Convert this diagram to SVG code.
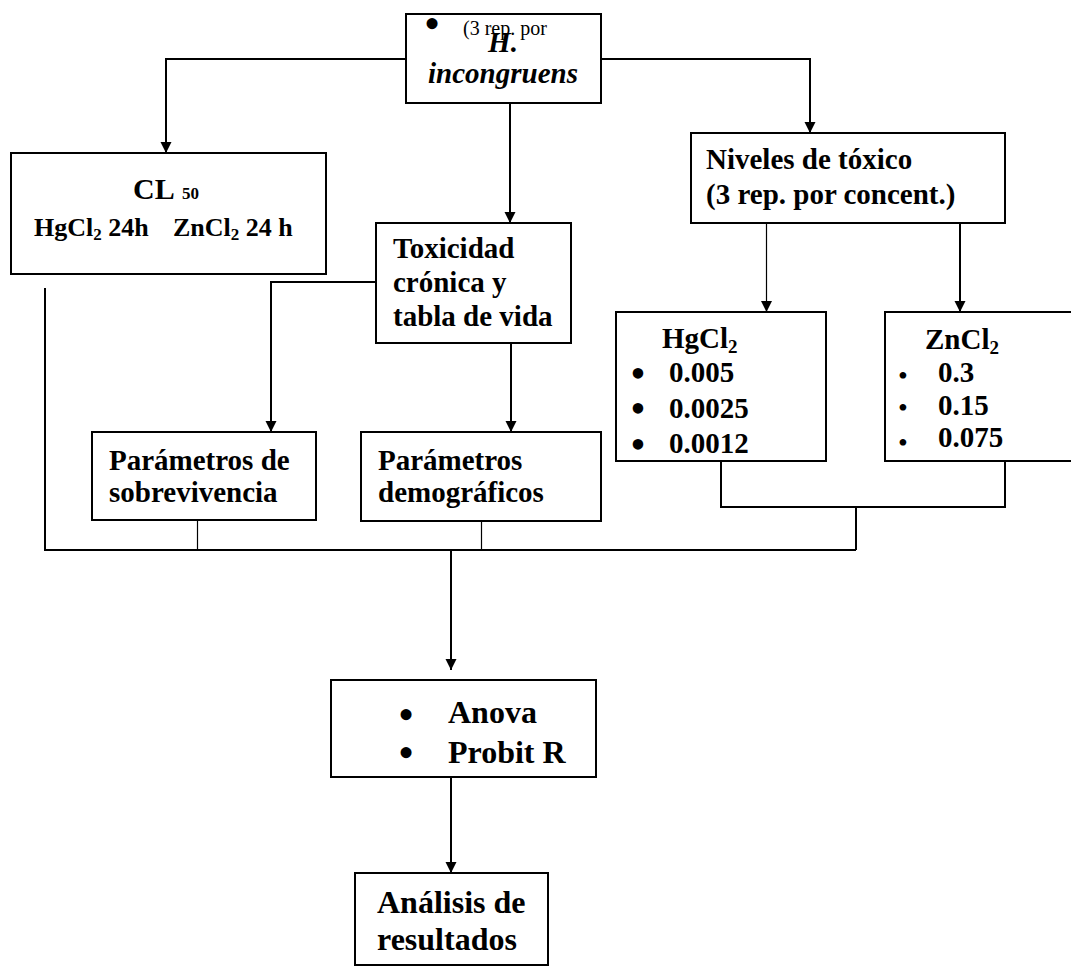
<svg xmlns="http://www.w3.org/2000/svg" width="1071" height="968" viewBox="0 0 1071 968">
<defs>
<marker id="arr" markerUnits="userSpaceOnUse" markerWidth="12" markerHeight="12" refX="11" refY="5.5" orient="auto">
<path d="M0,0 L11,5.5 L0,11 z" fill="#000"/>
</marker>
<style>
rect{fill:#fff;stroke:#000;stroke-width:2}
.c{fill:none;stroke:#000;stroke-width:2}
.t{stroke-width:1.2}
text{font-family:'Liberation Serif','Times New Roman',serif;fill:#000}
.b{font-weight:bold}
.bi{font-weight:bold;font-style:italic}
.bul{font-family:'Liberation Serif','Times New Roman',serif;text-anchor:middle}
</style>
</defs>
<rect x="0" y="0" width="1071" height="968" style="stroke:none;fill:#fff"/>
<g id="connectors">
<path class="c" d="M406,59 H166 V153" marker-end="url(#arr)"/>
<path class="c" d="M601,59 H810 V133" marker-end="url(#arr)"/>
<path class="c" d="M510,103 V223" marker-end="url(#arr)"/>
<path class="c" d="M376,282 H271 V432" marker-end="url(#arr)"/>
<path class="c" d="M511,343 V432" marker-end="url(#arr)"/>
<path class="c t" d="M766.5,223 V312" marker-end="url(#arr)"/>
<path class="c" d="M960,223 V312" marker-end="url(#arr)"/>
<path class="c" d="M721,461 V507 H1005 V461"/>
<path class="c" d="M856,507 V550"/>
<path class="c" d="M45,288 V550 H856"/>
<path class="c t" d="M197.5,520 V550"/>
<path class="c t" d="M481.5,521 V550"/>
<path class="c" d="M451,550 V670" marker-end="url(#arr)"/>
<path class="c" d="M451,777 V873" marker-end="url(#arr)"/>
</g>
<g id="top">
<rect x="406" y="14" width="195" height="89"/>
<text class="bul" x="432" y="39" font-size="46">•</text>
<text x="463" y="35" font-size="20">(3 rep. por</text>
<text class="bi" x="503" y="52" font-size="29" text-anchor="middle">H.</text>
<text class="bi" x="503" y="83" font-size="29" text-anchor="middle">incongruens</text>
</g>
<g id="cl50">
<rect x="11" y="153" width="315" height="121"/>
<text class="b" x="133" y="199" font-size="30">CL<tspan x="182" font-size="17">50</tspan></text>
<text class="b" x="34" y="236" font-size="26">HgCl<tspan font-size="17" dy="4">2</tspan><tspan dy="-4"> 24h</tspan><tspan x="173">ZnCl</tspan><tspan font-size="17" dy="4">2</tspan><tspan dy="-4"> 24 h</tspan></text>
</g>
<g id="toxicidad">
<rect x="376" y="223" width="195" height="120"/>
<text class="b" x="393" y="258" font-size="29">Toxicidad</text>
<text class="b" x="393" y="292" font-size="29">crónica y</text>
<text class="b" x="393" y="326" font-size="29">tabla de vida</text>
</g>
<g id="niveles">
<rect x="691" y="133" width="314" height="90"/>
<text class="b" x="706" y="169" font-size="29">Niveles de tóxico</text>
<text class="b" x="706" y="204" font-size="29">(3 rep. por concent.)</text>
</g>
<g id="hgcl2">
<rect x="616" y="312" width="210" height="149"/>
<text class="b" x="662" y="348" font-size="29">HgCl<tspan font-size="19" dy="5">2</tspan></text>
<text class="bul" x="638" y="388" font-size="44">•</text>
<text class="bul" x="638" y="423" font-size="44">•</text>
<text class="bul" x="638" y="459" font-size="44">•</text>
<text class="b" x="669" y="382" font-size="29">0.005</text>
<text class="b" x="669" y="418" font-size="29">0.0025</text>
<text class="b" x="669" y="453" font-size="29">0.0012</text>
</g>
<g id="zncl2">
<rect x="885" y="312" width="190" height="149"/>
<text class="b" x="925" y="349" font-size="29">ZnCl<tspan font-size="19" dy="5">2</tspan></text>
<text class="bul" x="903" y="385" font-size="28">•</text>
<text class="bul" x="903" y="417" font-size="28">•</text>
<text class="bul" x="903" y="452" font-size="28">•</text>
<text class="b" x="938" y="382" font-size="29">0.3</text>
<text class="b" x="938" y="415" font-size="29">0.15</text>
<text class="b" x="938" y="447" font-size="29">0.075</text>
</g>
<g id="sobrevivencia">
<rect x="92" y="432" width="224" height="88"/>
<text class="b" x="109" y="470" font-size="29">Parámetros de</text>
<text class="b" x="109" y="502" font-size="29">sobrevivencia</text>
</g>
<g id="demograficos">
<rect x="361" y="432" width="240" height="89"/>
<text class="b" x="378" y="470" font-size="29">Parámetros</text>
<text class="b" x="378" y="502" font-size="29">demográficos</text>
</g>
<g id="anova">
<rect x="331" y="680" width="265" height="97"/>
<text class="bul" x="406" y="730" font-size="46">•</text>
<text class="bul" x="406" y="768" font-size="46">•</text>
<text class="b" x="448" y="723" font-size="32">Anova</text>
<text class="b" x="448" y="763" font-size="32">Probit R</text>
</g>
<g id="analisis">
<rect x="355" y="873" width="193" height="92"/>
<text class="b" x="377" y="913" font-size="32">Análisis de</text>
<text class="b" x="377" y="950" font-size="32">resultados</text>
</g>
</svg>
